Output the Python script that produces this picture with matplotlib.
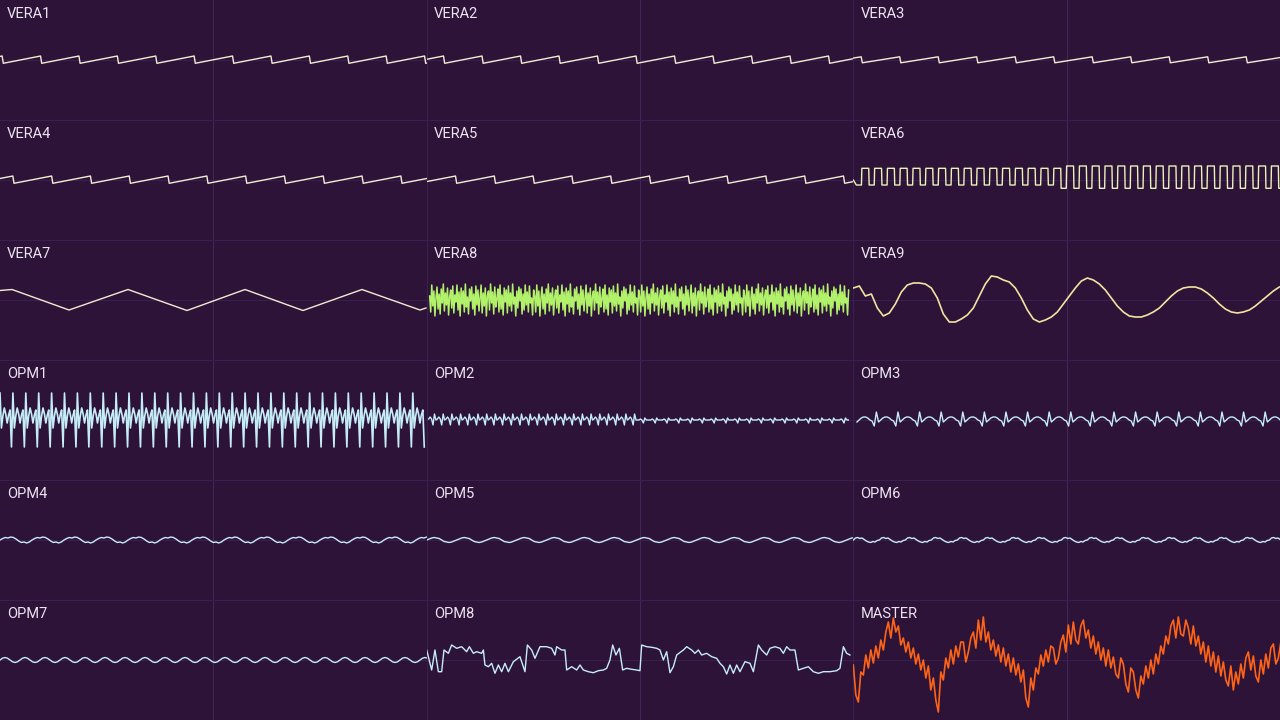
import numpy as np
import matplotlib
matplotlib.use('Agg')
import matplotlib.pyplot as plt

# panel names, row by row
names = [['VERA1', 'VERA2', 'VERA3'],
         ['VERA4', 'VERA5', 'VERA6'],
         ['VERA7', 'VERA8', 'VERA9'],
         ['OPM1', 'OPM2', 'OPM3'],
         ['OPM4', 'OPM5', 'OPM6'],
         ['OPM7', 'OPM8', 'MASTER']]

# --- waveform data (x in samples across a panel 0..426, y in amplitude, up positive) ---
# sawtooth: one tooth as (phase, level)
saw_phase = [0.0, 0.97]
saw_level = [-3.3, 4.0]
saw_small = [-2.8, 3.2]

# pulse (VERA6): low part then high part
pulse_phase = [0.0, 0.40, 0.43, 0.97]
pulse_lo_a, pulse_hi_a = -5, 11.7
pulse_lo_b, pulse_hi_b = -8.3, 14

# VERA7 triangle corners
tri_t = [0, 12, 69, 128, 187, 245, 303, 362, 420, 426]
tri_v = [9.5, 10.5, -10, 10.5, -10.5, 10.5, -10.5, 10.5, -10, -8]

# VERA8 noise block
vera8 = [4, -12, 15, -6, 9, -16, 2, 13, -9, 6, -14, 11, -3, 16, -11, 7, -5, 12, -15, 3,
         10, -8, 14, -13, 5, -2, 15, -10, 8, -16, 12, -4, 9, -12, 16, -7, 3, -14, 11, -1,
         13, -9, 6, -15, 14, -5, 10, -11, 2, 15, -13, 7, -6, 12, -16, 4, 9, -10, 16, -3,
         8, -14, 13, -7, 1, 11, -12, 15, -9, 5, -15, 12, -2, 10, -13, 14, -6, 7, -11, 16,
         -4, 3, -16, 9, -8, 13, -1, 11, -14, 6, -10, 15, -5, 8, -12, 14, -3, 2, -15, 10]

# VERA9, one value every 6 samples
vera9 = [12, 14, 4, 6, -8, -16, -13, -4, 8, 15, 17, 17, 16, 12, 2, -14, -22, -22, -19, -15,
         -8, 4, 16, 24, 23, 20, 18, 12, 2, -10, -19, -22, -20, -17, -12, -4, 4, 12, 19, 22,
         20, 16, 10, 2, -6, -12, -16, -17, -17, -15, -12, -8, -2, 4, 9, 12, 13, 13, 11, 7,
         2, -4, -9, -12, -13, -12, -10, -6, -1, 4, 9, 13]

# OPM cycles
opm1_cycle = [27, -8, 4, 12, 6, -3, 5, 10, -27]
opm2_big = [1, 3, 1, -5, 6, 0]
opm2_small = [0, 0, 1, 0, -3, 2, 0, 0]
opm3_cycle = [-2, 0, 2, 3, 3, 2, 0, -1, -6, 8]
opm4_cycle = [0, 1.5, 2.5, 2, 3, 2.5, 1, -1, -2.5, -2, -3, -2]
opm5_cycle = [0, 1, 2, 2.5, 2, 1.5, 0, -1.5, -2, -2.5, -2, -1]
opm6_cycle = [0, 2, 2.5, 1.5, 2, 0.5, -1, -2, -2.5, -1.5, -2, -0.5]
opm7_cycle = [0, 1.8, 2.5, 1.8, 0, -1.8, -2.5, -1.8]

opm8_t = [0, 5, 8.3, 11.7, 15, 17.3, 21.7, 25, 30, 35,
          40, 42.7, 46.7, 50, 55, 56.7, 58.3, 61.7, 65, 68.3,
          71.7, 75, 78.3, 81.7, 86.7, 93.3, 98.3, 100.7, 105, 108.3,
          113.3, 120, 125, 128.3, 130, 135, 138.3, 140, 145, 150,
          153.3, 156.7, 161.7, 166.7, 171.7, 176.7, 180, 183.3, 186, 189.3,
          192.7, 196, 200, 205, 210, 213.3, 215, 220, 225, 230,
          233.3, 236.7, 240, 243.3, 246.7, 250, 256.7, 260, 265, 268.3,
          271.7, 275, 280, 285, 290, 293.3, 296.7, 300, 303.3, 306.7,
          310, 313.3, 318.3, 323.3, 326.7, 331.7, 335, 340, 343.3, 348.3,
          353.3, 356.7, 360, 363.3, 368.3, 371.7, 376.7, 381.7, 386.7, 391.7,
          396.7, 403.3, 410, 413.3, 416.7, 420, 423.3]
opm8_v = [10, -10, 10, -11.7, -11.7, 10, 6.7, 15, 11.7, 13.3,
          8.3, 13.3, 6.7, 8.3, 6.7, 10, -5, -6.7, -3.3, -13.3,
          -5, -11.7, -3.3, -11.7, -1.7, 3.3, -11.7, 15, 10, 1.7,
          13.3, 13.3, 11.7, 5, 13.3, 10, 10, -10, -6.7, -10,
          -5, -10, -11.7, -12.7, -10.7, -10, -8.3, 0, 15, 5,
          11.7, -10, -8.3, -9.3, -10, -10.7, 15, 13.3, 12.7, 11.7,
          10, 0, 8.3, -12.7, -6.7, 5, 10, 13.3, 10, 6.7,
          10, 5, 6.7, 3.3, 1.7, -3.3, -6.7, -14, -5, -13.3,
          -5, -11.7, -1.7, -3.3, -11.7, 15, 10, 5, 11.7, 13.3,
          11.7, 6.7, 13.3, 10, 10, -10, -8.3, -6.7, -11.7, -13.3,
          -11.7, -11.7, -10.7, -8.3, 13.3, 6.7, 5]

# MASTER, one value every 2.5 samples
master = [-5, -35, -42, -12, -15, 5, -8, 10, -3, 14, 2, 20, 10, 28, 38, 22, 42, 28, 34, 15,
          22, 8, 18, 2, 12, -4, 6, -10, 0, -18, -6, -30, -18, -40, -52, -12, -20, 2, -8, 10,
          -4, 14, 3, 18, 18, -2, 8, 22, 28, 12, 40, 20, 43, 18, 28, 10, 20, 4, 15, -2,
          12, -6, 6, -12, 2, -15, -4, -22, -10, -38, -47, -18, -30, -8, -14, 5, -6, 10, -2, 14,
          12, -4, 2, 18, 25, 8, 35, 16, 38, 20, 16, 34, 40, 22, 30, 12, 24, 6, 18, 0,
          12, -6, 10, -8, 3, -14, -18, 2, -4, -24, -32, -8, -12, -30, -38, -16, -24, -6, -18, 0,
          -14, 6, -4, 14, 6, 24, 16, 34, 40, 22, 43, 26, 24, 40, 32, 16, 34, 14, 24, 6,
          18, -2, 14, -6, 8, -12, 4, -16, -2, -20, -26, -6, -30, -12, -24, -4, -18, 2, 8, -10,
          4, -16, -22, 0, -14, 6, -8, 12, 16, -4, 2, 18]

BG = '#2d1338'
BORDER = '#3b1f4e'
CENTER = '#45285c'
CREAM = '#f0efd2'
OPM_C = '#c6ecf7'
W = 1280 / 3


def cycles(cycle, period, n, x0=0.0):
    y = np.tile(np.asarray(cycle, float), n)
    x = x0 + np.arange(len(y)) * period / len(cycle)
    return x, y


def shaped(phase, level, period, n, x0=0.0):
    ph = np.asarray(phase, float)
    x = np.concatenate([x0 + (k + ph) * period for k in range(n)])
    y = np.tile(np.asarray(level, float), n)
    return x, y


series = {}
series['VERA1'] = (shaped(saw_phase, saw_level, 38.4, 13, 3.3 - 38.4), CREAM, 1.0)
series['VERA2'] = (shaped(saw_phase, saw_level, 38.5, 13, 18 - 38.5), CREAM, 1.0)
series['VERA3'] = (shaped(saw_phase, saw_small, 38.5, 13, 9 - 38.5), CREAM, 1.0)
series['VERA4'] = (shaped(saw_phase, saw_level, 38.8, 13, 14 - 38.8), CREAM, 1.0)
series['VERA5'] = (shaped(saw_phase, saw_level, 38.8, 13, 30 - 38.8), CREAM, 1.0)

xa, ya = shaped(pulse_phase, [pulse_lo_a, pulse_lo_a, pulse_hi_a, pulse_hi_a], 12.8, 16, 3)
xb, yb = shaped(pulse_phase, [pulse_lo_b, pulse_lo_b, pulse_hi_b, pulse_hi_b], 12.8, 18, 3 + 16 * 12.8)
series['VERA6'] = ((np.r_[0, xa, xb], np.r_[0, ya, yb]), '#eaf2b8', 1.0)
series['VERA7'] = ((np.array(tri_t, float), np.array(tri_v, float)), '#f3ead2', 1.0)
series['VERA8'] = (cycles(vera8, 105, 4, 3), '#b2f26a', 1.1)
series['VERA9'] = ((np.arange(len(vera9)) * 6.0, np.array(vera9, float)), '#f4e3a0', 1.2)

series['OPM1'] = (cycles(opm1_cycle, 12.9, 33, 0), OPM_C, 1.2)
xa, ya = cycles(opm2_big, 8.7, 24, 2)
xb, yb = cycles(opm2_small, 11.8, 18, 2 + 24 * 8.7)
series['OPM2'] = ((np.r_[xa, xb], np.r_[ya, yb]), OPM_C, 1.0)
series['OPM3'] = (cycles(opm3_cycle, 21.6, 20, 3.6), OPM_C, 1.0)
series['OPM4'] = (cycles(opm4_cycle, 32, 14, 0), OPM_C, 1.0)
series['OPM5'] = (cycles(opm5_cycle, 30, 15, 0), OPM_C, 1.0)
series['OPM6'] = (cycles(opm6_cycle, 26, 17, 0), OPM_C, 1.0)
series['OPM7'] = (cycles(opm7_cycle, 20, 22, 0), OPM_C, 1.0)
series['OPM8'] = ((np.array(opm8_t, float), np.array(opm8_v, float)), OPM_C, 1.0)
series['MASTER'] = ((np.arange(len(master)) * 2.5, np.array(master, float)), '#ff6416', 1.2)

fig = plt.figure(figsize=(12.8, 7.2), dpi=100, facecolor=BG)

for r, row in enumerate(names):
    for c, name in enumerate(row):
        ax = fig.add_axes([c / 3, 1 - (r + 1) / 6, 1 / 3, 1 / 6])
        ax.set_facecolor(BG)
        ax.set_xlim(0, W)
        ax.set_ylim(-60, 60)
        ax.set_xticks([])
        ax.set_yticks([])
        for side, s in ax.spines.items():
            s.set_color(BORDER)
            s.set_linewidth(0.8)
        ax.spines['left'].set_visible(c > 0)
        ax.spines['top'].set_visible(r > 0)
        ax.axvline(W / 2, color=CENTER, lw=0.7, zorder=1)
        ax.axhline(0, color='#3c1f52', lw=0.7, zorder=1)
        (x, y), col, lw = series[name]
        ax.plot(x, y, color=col, lw=lw, zorder=3, clip_on=True)
        ax.text(7 / W, 1 - 14 / 120, name, transform=ax.transAxes,
                fontsize=10.5, family=['Roboto', 'DejaVu Sans'],
                color='#ece3f1', va='center', ha='left', zorder=5)

fig.savefig('out.png', dpi=100, facecolor=BG)
